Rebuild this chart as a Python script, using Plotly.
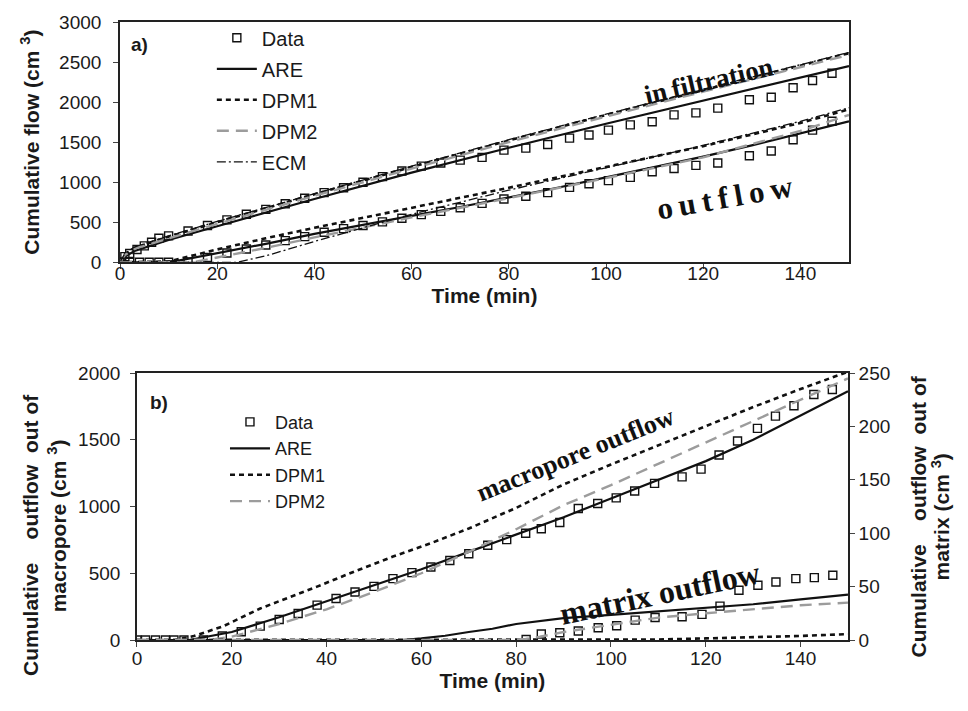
import plotly.graph_objects as go

# ---------------- Panel a) data ----------------
t_inf_data = [0, 1, 2, 3.5, 5, 6.5, 8, 10, 14, 18, 22, 26, 30, 34, 38, 42, 46, 50, 54, 58, 62, 66, 70,
              74.5, 79, 83.5, 88, 92.5, 96.5, 100.5, 105, 109.5, 114, 118.5, 123, 129.5, 134, 138.5, 142.5, 146.5]
v_inf_data = [0, 70, 110, 160, 205, 250, 300, 330, 390, 460, 530, 600, 660, 730, 800, 870, 930, 1000, 1070,
              1140, 1200, 1240, 1275, 1310, 1400, 1425, 1470, 1550, 1590, 1650, 1715, 1755, 1840, 1865, 1925,
              2030, 2060, 2180, 2270, 2360]

t_model_a = [0, 1, 3, 10, 20, 40, 60, 80, 100, 120, 140, 150]
are_inf = [0, 70, 140, 280, 450, 790, 1120, 1430, 1730, 2020, 2310, 2450]
dpm1_inf = [0, 100, 180, 320, 500, 850, 1190, 1520, 1840, 2150, 2460, 2610]
dpm2_inf = [0, 90, 170, 300, 480, 830, 1170, 1500, 1820, 2130, 2440, 2590]
ecm_inf = [0, 110, 190, 330, 510, 855, 1200, 1530, 1850, 2160, 2470, 2620]

t_out_data = [0, 2, 4, 6, 8, 10, 14, 18, 22, 26, 30, 34, 38, 42, 46, 50, 54, 58, 62, 66, 70, 74.5, 79,
              83.5, 88, 92.5, 96.5, 100.5, 105, 109.5, 114, 118.5, 123, 129.5, 134, 138.5, 142.5, 146.5]
v_out_data = [0, 0, 0, 0, 0, 0, 5, 60, 115, 165, 215, 270, 320, 375, 420, 460, 505, 550, 595, 635, 680,
              735, 790, 825, 870, 935, 980, 1020, 1060, 1130, 1170, 1210, 1240, 1330, 1390, 1530, 1650, 1760]

t_are_out = [0, 8, 12, 20, 30, 40, 50, 60, 70, 80, 90, 100, 110, 120, 130, 140, 150]
are_out = [0, 0, 20, 110, 230, 355, 470, 580, 690, 810, 930, 1060, 1190, 1320, 1460, 1610, 1760]
t_dpm1_out = [0, 10, 20, 30, 40, 60, 80, 100, 120, 140, 150]
dpm1_out = [0, 10, 160, 300, 430, 680, 930, 1190, 1450, 1740, 1910]
t_dpm2_out = [0, 15, 20, 30, 40, 60, 80, 100, 120, 140, 150]
dpm2_out = [0, 0, 60, 180, 310, 560, 800, 1050, 1310, 1640, 1840]
t_ecm_out = [0, 24, 30, 40, 60, 80, 100, 120, 140, 150]
ecm_out = [0, 0, 80, 260, 600, 900, 1180, 1460, 1760, 1930]

# ---------------- Panel b) data ----------------
t_mac_data = [0, 1.8, 3.9, 6, 7.8, 9.9, 14, 18, 22, 26, 30, 34, 38, 42, 46, 50, 54, 58, 62, 66, 70, 74,
              78, 82, 85.3, 89.2, 93.1, 97.2, 101.1, 105, 109.2, 115, 119, 122.8, 126.7, 130.9, 134.7,
              138.6, 142.8, 146.7]
v_mac_data = [0, 0, 0, 0, 0, 0, 0, 30, 62, 104, 154, 199, 261, 311, 360, 402, 460, 505, 547, 596, 646,
              710, 752, 800, 833, 880, 985, 1022, 1065, 1116, 1173, 1222, 1280, 1386, 1491, 1585, 1677,
              1755, 1839, 1876]

t_are_mac = [0, 11, 20, 30, 40, 50, 60, 70, 80, 90, 100, 110, 120, 130, 140, 150]
are_mac = [0, 0, 60, 170, 290, 410, 530, 660, 790, 920, 1060, 1200, 1340, 1500, 1680, 1863]
t_dpm1_mac = [0, 8, 12, 18, 26, 34, 38, 46, 54, 62, 70, 80, 90, 100, 110, 120, 130, 140, 150]
dpm1_mac = [0, 0, 30, 100, 236, 345, 400, 515, 625, 725, 835, 990, 1165, 1315, 1460, 1600, 1745, 1880, 2010]
t_dpm2_mac = [0, 15, 20, 30, 40, 50, 60, 70, 80, 90, 100, 110, 120, 130, 140, 150]
dpm2_mac = [0, 0, 25, 120, 230, 360, 500, 660, 830, 1010, 1160, 1320, 1480, 1640, 1800, 1960]

t_mat_data = [82.1, 85.3, 89.2, 93.1, 97.3, 101.2, 105.1, 109.3, 115, 119.2, 123, 127, 131, 134.8, 139,
              142.9, 146.8]
v_mat_data = [0.5, 5.6, 6.8, 8.4, 11.5, 13.3, 18.6, 21, 21.7, 24, 31.7, 46.6, 51.2, 54.3, 57.5, 58.4, 60.6]

t_are_mat = [0, 56, 60, 65, 70, 75, 80, 85, 90, 100, 110, 120, 130, 140, 150]
are_mat = [0, 0, 1.5, 4, 7.5, 10.5, 15, 17.5, 20.5, 23.5, 27, 30, 33.5, 38, 42.5]
t_dpm1_mat = [0, 100, 110, 120, 130, 140, 150]
dpm1_mat = [0, 0, 0.5, 1.5, 2.5, 3.8, 5.5]
t_dpm2_mat = [0, 78, 82, 85, 90, 100, 110, 120, 130, 140, 150]
dpm2_mat = [0, 0, 1, 3, 7.5, 14.5, 21, 25, 29, 32.5, 35]

x_ticks = [0, 20, 40, 60, 80, 100, 120, 140]

# ---------------- styles ----------------
BLACK = "#111111"
GRAY = "#9c9c9c"
FONT = "Liberation Sans, Arial, sans-serif"
SERIF = "Liberation Serif, Times New Roman, serif"

sty = {
    "ARE": dict(color=BLACK, width=2.2),
    "DPM1": dict(color=BLACK, width=2.6, dash="5px,4px"),
    "DPM2": dict(color=GRAY, width=2.4, dash="12px,7px"),
    "ECM": dict(color=BLACK, width=1.3, dash="9px,3px,2px,3px"),
}
marker = dict(symbol="square-open", size=8, color=BLACK, line=dict(width=1.4, color=BLACK))

fig = go.Figure()


def add_line(x, y, name, xa, ya, show, legend, group):
    fig.add_trace(go.Scatter(x=x, y=y, mode="lines", name=name, line=sty[name], xaxis=xa, yaxis=ya,
                             showlegend=show, legend=legend, legendgroup=group))


def add_data(x, y, xa, ya, show, legend, group):
    fig.add_trace(go.Scatter(x=x, y=y, mode="markers", name="Data", marker=marker, xaxis=xa, yaxis=ya,
                             showlegend=show, legend=legend, legendgroup=group))


# panel a
add_data(t_inf_data, v_inf_data, "x", "y", True, "legend", "a0")
add_line(t_model_a, are_inf, "ARE", "x", "y", True, "legend", "a1")
add_line(t_model_a, dpm1_inf, "DPM1", "x", "y", True, "legend", "a2")
add_line(t_model_a, dpm2_inf, "DPM2", "x", "y", True, "legend", "a3")
add_line(t_model_a, ecm_inf, "ECM", "x", "y", True, "legend", "a4")
add_data(t_out_data, v_out_data, "x", "y", False, "legend", "a0")
add_line(t_are_out, are_out, "ARE", "x", "y", False, "legend", "a1")
add_line(t_dpm1_out, dpm1_out, "DPM1", "x", "y", False, "legend", "a2")
add_line(t_dpm2_out, dpm2_out, "DPM2", "x", "y", False, "legend", "a3")
add_line(t_ecm_out, ecm_out, "ECM", "x", "y", False, "legend", "a4")

# panel b
add_data(t_mac_data, v_mac_data, "x2", "y2", True, "legend2", "b0")
add_line(t_are_mac, are_mac, "ARE", "x2", "y2", True, "legend2", "b1")
add_line(t_dpm1_mac, dpm1_mac, "DPM1", "x2", "y2", True, "legend2", "b2")
add_line(t_dpm2_mac, dpm2_mac, "DPM2", "x2", "y2", True, "legend2", "b3")
add_data(t_mat_data, v_mat_data, "x2", "y3", False, "legend2", "b0")
add_line(t_are_mat, are_mat, "ARE", "x2", "y3", False, "legend2", "b1")
add_line(t_dpm1_mat, dpm1_mat, "DPM1", "x2", "y3", False, "legend2", "b2")
add_line(t_dpm2_mat, dpm2_mat, "DPM2", "x2", "y3", False, "legend2", "b3")

tickfont = dict(family=FONT, size=19, color="#1a1a1a")
titlefont = dict(family=FONT, size=21, color="#1a1a1a", weight="bold")
axcommon = dict(showline=True, linecolor="#222222", linewidth=1.6, ticks="outside", ticklen=5,
                tickcolor="#444444", showgrid=False, zeroline=False, tickfont=tickfont)

fig.update_layout(
    width=968, height=711,
    margin=dict(l=120, r=119, t=15, b=71),
    paper_bgcolor="white", plot_bgcolor="white",
    xaxis=dict(domain=[0, 1], range=[0, 150], tickvals=x_ticks, mirror=True, anchor="y",
               ticklabelstandoff=-12,
               title=dict(text="Time (min)", font=titlefont, standoff=0), **axcommon),
    yaxis=dict(domain=[0.6112, 1], range=[0, 3000], dtick=500, mirror=True, anchor="x",
               ticklabelstandoff=8,
               title=dict(text="Cumulative flow (cm <sup>3</sup>)", font=titlefont, standoff=14), **axcommon),
    xaxis2=dict(domain=[0.0233, 0.9986], range=[0, 150], tickvals=x_ticks, mirror=True, anchor="y2",
                ticklabelstandoff=-5,
                title=dict(text="Time (min)", font=titlefont, standoff=0), **axcommon),
    yaxis2=dict(domain=[0, 0.432], range=[0, 2000], dtick=500, mirror=True, anchor="x2",
                ticklabelstandoff=6, **axcommon),
    yaxis3=dict(range=[0, 250], dtick=50, overlaying="y2", side="right", anchor="x2", **axcommon),
    legend=dict(x=0.126, y=1.006, xanchor="left", yanchor="top", bgcolor="rgba(0,0,0,0)",
                font=dict(family=FONT, size=20, color="#1a1a1a"), tracegroupgap=2, itemwidth=40),
    legend2=dict(x=0.144, y=0.3824, xanchor="left", yanchor="top", bgcolor="rgba(0,0,0,0)",
                 font=dict(family=FONT, size=18, color="#1a1a1a"), tracegroupgap=0, itemwidth=40),
)

# side titles of panel b (two lines each, placed individually)
side_titles = [
    ("Cumulative\u00a0\u00a0\u00a0\u00a0outflow\u00a0\u00a0out of", -0.1221, 0.17),
    ("macropore (cm <sup>3</sup>)", -0.0864, 0.184),
    ("Cumulative\u00a0\u00a0\u00a0\u00a0outflow\u00a0\u00a0out of", 1.0947, 0.2),
    ("matrix (cm <sup>3</sup>)", 1.1262, 0.2),
]
for txt, xp, yp in side_titles:
    fig.add_annotation(text=txt, xref="paper", yref="paper", x=xp, y=yp, showarrow=False,
                       textangle=-90, xanchor="center", yanchor="middle", font=titlefont)

ann_font = dict(family=FONT, size=19, color="#1a1a1a", weight="bold")
fig.add_annotation(text="a)", xref="paper", yref="paper", x=0.0265, y=0.963, showarrow=False,
                   xanchor="center", yanchor="middle", font=ann_font)
fig.add_annotation(text="b)", xref="paper", yref="paper", x=0.0535, y=0.384, showarrow=False,
                   xanchor="center", yanchor="middle", font=ann_font)

lab = dict(family=SERIF, color="#111111", weight="bold")
fig.add_annotation(text="in\u2009filtration", xref="x", yref="y", x=121, y=2260, showarrow=False,
                   textangle=-13, font=dict(size=27, **lab))
fig.add_annotation(text="o\u2009u\u2009t\u2009f\u2009l\u2009o\u2009w", xref="x", yref="y", x=124.5, y=815,
                   showarrow=False, textangle=-10, font=dict(size=31, **lab))
fig.add_annotation(text="macropore outflow", xref="x2", yref="y2", x=92.5, y=1390, showarrow=False,
                   textangle=-22, font=dict(size=26, **lab))
fig.add_annotation(text="matrix outflow", xref="x2", yref="y2", x=110.4, y=355, showarrow=False,
                   textangle=-12, font=dict(size=32, **lab))

fig.write_html("out.html")
